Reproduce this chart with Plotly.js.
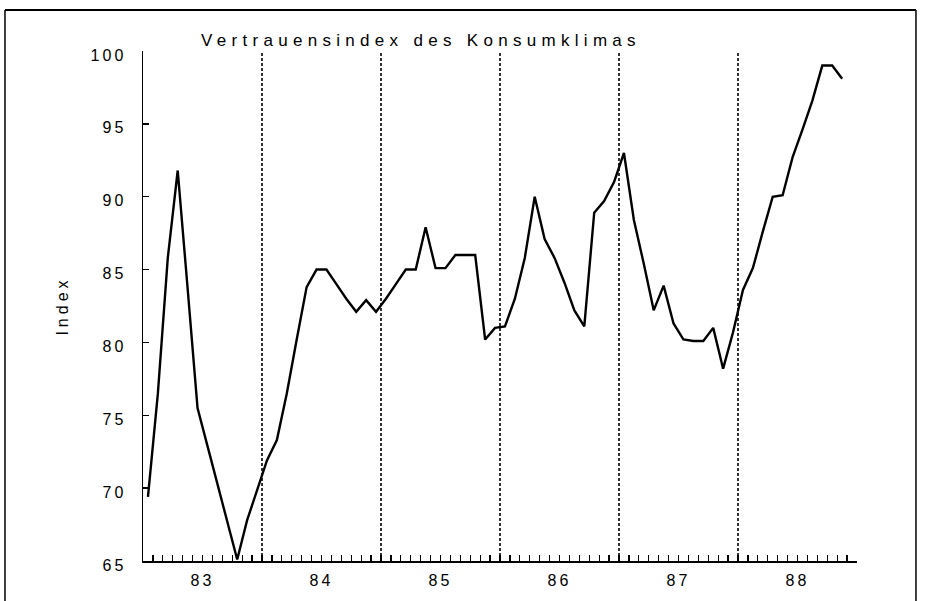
<!DOCTYPE html>
<html>
<head>
<meta charset="utf-8">
<script src="https://cdn.plot.ly/plotly-3.0.1.min.js"></script>
<style>
  html, body { margin: 0; padding: 0; background: #fff; }
  #chart { width: 932px; height: 601px; }
  #chart .gtitle { letter-spacing: 5.3px; }
  #chart .xtick text, #chart .ytick text { letter-spacing: 3px; }
  #chart .ytitle { letter-spacing: 4px; }
</style>
</head>
<body>
<div id="chart"></div>
<script>
// Monthly index values, January 1983 to November 1988
const values1983 = [69.4, 76.5, 85.8, 91.8, 83.7, 75.5, 72.9, 70.3, 67.7, 65.1, 67.8, 69.8];
const values1984 = [71.9, 73.3, 76.5, 80.2, 83.8, 85.0, 85.0, 84.0, 83.0, 82.1, 82.9, 82.1];
const values1985 = [83.0, 84.0, 85.0, 85.0, 87.9, 85.1, 85.1, 86.0, 86.0, 86.0, 80.2, 81.0];
const values1986 = [81.1, 83.0, 85.8, 90.0, 87.1, 85.8, 84.1, 82.2, 81.1, 88.9, 89.7, 91.0];
const values1987 = [93.0, 88.4, 85.4, 82.2, 83.9, 81.3, 80.2, 80.1, 80.1, 81.0, 78.2, 80.7];
const values1988 = [83.6, 85.1, 87.6, 90.0, 90.1, 92.7, 94.6, 96.6, 99.0, 99.0, 98.1];

const years = [1983, 1984, 1985, 1986, 1987, 1988];
const yearLabels = ['83', '84', '85', '86', '87', '88'];
const yearBoundaries = [1984, 1985, 1986, 1987, 1988];
const yTicks = [65, 70, 75, 80, 85, 90, 95, 100];

const perYear = [values1983, values1984, values1985, values1986, values1987, values1988];
const xs = [], ys = [];
perYear.forEach((arr, i) => {
  arr.forEach((v, m) => { xs.push(years[i] + (m + 0.5) / 12); ys.push(v); });
});

const FONT = 'Liberation Sans, Arial, sans-serif';

const trace = {
  x: xs, y: ys, type: 'scatter', mode: 'lines',
  line: { color: '#000', width: 2.4 },
  hoverinfo: 'x+y'
};

const shapes = yearBoundaries.map(yb => ({
  type: 'line', xref: 'x', yref: 'y', x0: yb, x1: yb, y0: 65, y1: 100,
  line: { color: '#000', width: 1.6, dash: '3px,2px' }, layer: 'above'
}));

// outer frame (paper coordinates outside the plot area)
const fx0 = -0.1933, fx1 = 1.0826, fyTop = 1.0804, fyBot = -0.12;
shapes.push({ type: 'line', xref: 'paper', yref: 'paper', x0: fx0, x1: fx0, y0: fyBot, y1: fyTop, line: { color: '#000', width: 1.5 } });
shapes.push({ type: 'line', xref: 'paper', yref: 'paper', x0: fx0, x1: fx1, y0: fyTop, y1: fyTop, line: { color: '#000', width: 2 } });
shapes.push({ type: 'line', xref: 'paper', yref: 'paper', x0: fx1, x1: fx1, y0: fyBot, y1: fyTop, line: { color: '#000', width: 1.5 } });

const layout = {
  width: 932, height: 601,
  margin: { l: 143, r: 75, t: 51, b: 40 },
  paper_bgcolor: '#fff', plot_bgcolor: '#fff',
  showlegend: false,
  title: {
    text: 'Vertrauensindex des Konsumklimas',
    font: { family: FONT, size: 17, color: '#000' },
    xref: 'container', yref: 'container',
    x: 421 / 932, xanchor: 'center',
    y: 1 - 40 / 601, yanchor: 'middle'
  },
  xaxis: {
    range: [1983, 1989],
    tickmode: 'array',
    tickvals: years.map(y => y + 0.5),
    ticktext: yearLabels,
    ticks: 'inside', ticklen: 6, tickwidth: 1.3, tickcolor: '#000',
    minor: { tick0: 1983, dtick: 1 / 12, ticks: 'inside', ticklen: 6, tickwidth: 1.3, tickcolor: '#000', showgrid: false },
    showline: true, linecolor: '#000', linewidth: 2,
    showgrid: false, zeroline: false,
    tickfont: { family: FONT, size: 16, color: '#000' },
    ticklabelstandoff: 4,
    fixedrange: true
  },
  yaxis: {
    range: [65, 100],
    tickmode: 'array', tickvals: yTicks, ticktext: yTicks.map(String),
    ticks: 'inside', ticklen: 6, tickwidth: 1.3, tickcolor: '#000',
    showline: true, linecolor: '#000', linewidth: 1.5,
    showgrid: false, zeroline: false,
    tickfont: { family: FONT, size: 16, color: '#000' },
    ticklabelstandoff: 12,
    ticklabelshift: 4,
    title: { text: 'Index', font: { family: FONT, size: 16, color: '#000' }, standoff: 27 },
    fixedrange: true
  },
  shapes: shapes
};

Plotly.newPlot('chart', [trace], layout, { displayModeBar: false, staticPlot: true });
</script>
</body>
</html>
